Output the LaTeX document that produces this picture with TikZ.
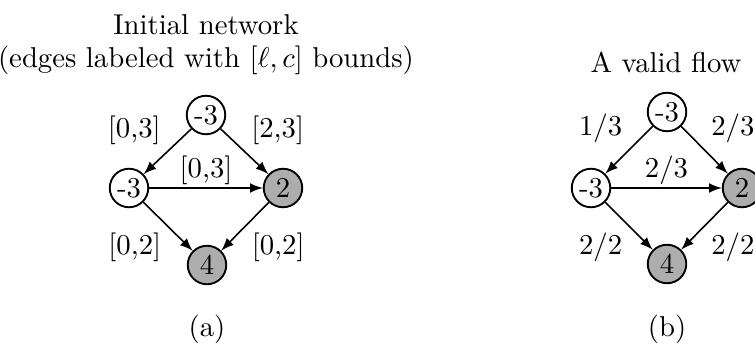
\documentclass[tikz,border=0pt]{standalone}
\usepackage{amssymb}
\usepackage{amsmath}
\usepackage{tikz}
\usetikzlibrary{positioning,arrows}
\tikzset{
  >=latex,
  vertex/.style={draw, circle, line width=0.65pt, minimum size=13.4pt, inner sep=0pt},
  demand/.style={vertex, fill=black!32},
  bound/.style={inner sep=2.1pt},
  flat/.style={inner sep=0.8pt},
}

\begin{document}
\begin{tikzpicture}[->, x=0.348pt, y=-0.348pt, line width=0.55pt, auto]
    \useasboundingbox (0,0) rectangle (755,348);
    % (a) initial network
    \node[anchor=base] (titleA) at (206,35) {Initial network};
    \node[anchor=base] (titleAb) at (206,68) {(edges labeled with $[\ell,c]$ bounds)};
    \node[vertex] (As) at (206,115) {-3};
    \node[vertex] (Al) at (129,188) {-3};
    \node[demand] (Ar) at (283,188) {2};
    \node[demand] (At) at (207,265) {4};
    \path
      (As) edge node[bound, swap] {[0,3]} (Al)
      (As) edge node[bound] {[2,3]} (Ar)
      (Al) edge node[flat] {[0,3]} (Ar)
      (Al) edge node[bound, swap] {[0,2]} (At)
      (Ar) edge node[bound] {[0,2]} (At);
    \node[anchor=base] (capA) at (207,337) {(a)};
    % (b) a valid flow
    \node[anchor=base] (titleB) at (666,73) {A valid flow};
    \node[vertex] (Bs) at (667,112) {-3};
    \node[vertex] (Bl) at (591,188) {-3};
    \node[demand] (Br) at (742,188) {2};
    \node[demand] (Bt) at (667,264) {4};
    \path
      (Bs) edge node[bound, swap] {$1/3$} (Bl)
      (Bs) edge node[bound] {$2/3$} (Br)
      (Bl) edge node[flat] {$2/3$} (Br)
      (Bl) edge node[bound, swap] {$2/2$} (Bt)
      (Br) edge node[bound] {$2/2$} (Bt);
    \node[anchor=base] (capB) at (667,337) {(b)};
\end{tikzpicture}
\end{document}
